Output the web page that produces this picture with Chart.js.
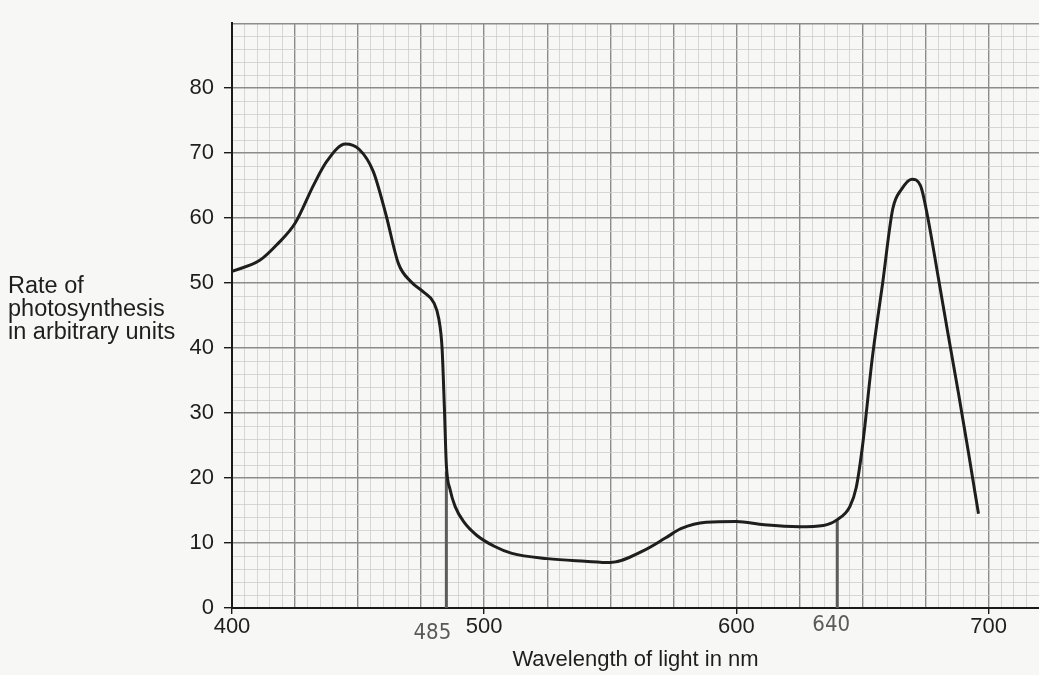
<!DOCTYPE html>
<html>
<head>
<meta charset="utf-8">
<script src="https://cdn.jsdelivr.net/npm/chart.js@4.4.1/dist/chart.umd.min.js"></script>
<style>
  html, body { margin: 0; padding: 0; background: #f7f7f5; }
  #wrap { width: 1039px; height: 675px; position: relative; }
</style>
</head>
<body>
<div id="wrap"><canvas id="c" width="1039" height="675"></canvas></div>
<script>
// curve
const wavelengths = [400, 411, 418, 425, 432.5, 437.7, 445, 450.4, 456, 461, 466, 471, 476, 480, 482, 483.3, 484.2, 485, 486.5, 488.5,
  492, 497, 504, 511, 525, 540, 550, 563, 572, 578, 588, 600, 611, 625, 634.5, 640, 645, 647.5, 650, 654, 658, 662, 665.6, 669.6, 673, 675.8,
  680, 684, 688, 692, 696];
const rates = [51.8, 53.5, 56, 59.2, 65.2, 68.8, 71.4, 70.6, 67.2, 60.6, 53, 50.2, 48.6, 47, 44.5, 40, 31, 22, 18.2, 15.6,
  13.2, 11.2, 9.5, 8.4, 7.6, 7.2, 7.0, 8.8, 10.8, 12.2, 13.2, 13.3, 12.8, 12.5, 12.7, 13.6, 15.6, 18.5, 24.9, 38.8, 50, 61.4, 64.5, 66, 65, 60.3,
  51, 42, 33.2, 24, 14.5];

// pencil marks down to the axis
const markWavelengths = [485, 640];
const markHeights = [21, 13.5];
const markLabels = ['485', '640'];

const xLabelValues = [400, 500, 600, 700];
const yLabelValues = [0, 10, 20, 30, 40, 50, 60, 70, 80];

const FONT = "'Liberation Sans', Arial, sans-serif";

const curve = wavelengths.map((w, i) => ({ x: w, y: rates[i] }));
const markSets = markWavelengths.map((w, i) => ({
  data: [{ x: w, y: 0 }, { x: w, y: markHeights[i] }],
  borderColor: '#5c5c5c',
  borderWidth: 3,
  pointRadius: 0,
  tension: 0,
  order: 1
}));

const textPlugin = {
  id: 'paperText',
  afterDraw(chart) {
    const ctx = chart.ctx;
    const xs = chart.scales.x;
    ctx.save();
    ctx.fillStyle = '#1e1e1e';
    ctx.font = '23.5px ' + FONT;
    ctx.textAlign = 'left';
    ctx.textBaseline = 'alphabetic';
    ['Rate of', 'photosynthesis', 'in arbitrary units'].forEach((t, i) => {
      ctx.fillText(t, 8, 293 + i * 23);
    });
    // handwritten values
    ctx.fillStyle = '#5a5a5a';
    ctx.font = "22px 'DejaVu Sans Condensed', 'DejaVu Sans', sans-serif";
    ctx.textAlign = 'center';
    ctx.textBaseline = 'middle';
    const offs = [-14, -6];
    const ys = [633, 625];
    markWavelengths.forEach((w, i) => {
      ctx.fillText(markLabels[i], xs.getPixelForValue(w) + offs[i], ys[i]);
    });
    ctx.restore();
  }
};

new Chart(document.getElementById('c'), {
  type: 'line',
  data: {
    datasets: [{
      data: curve,
      borderColor: '#1e1e1e',
      borderWidth: 3,
      pointRadius: 0,
      cubicInterpolationMode: 'monotone',
      fill: false,
      order: 0
    }, ...markSets]
  },
  options: {
    responsive: false,
    animation: false,
    layout: { padding: { top: 23, right: 0, left: 0, bottom: 0 } },
    plugins: { legend: { display: false }, tooltip: { enabled: false } },
    scales: {
      x: {
        type: 'linear',
        min: 400,
        max: 720,
        afterFit: s => { s.height = 67; },
        border: { color: '#1a1a1a', width: 2 },
        grid: {
          color: c => (c.tick.value % 25 === 0 ? '#8c8c8c' : '#cdcdcd'),
          lineWidth: c => (c.tick.value % 25 === 0 ? 1.4 : 0.8),
          tickColor: c => (xLabelValues.includes(c.tick.value) ? '#1a1a1a' : 'rgba(0,0,0,0)'),
          tickLength: 6
        },
        ticks: {
          stepSize: 5,
          autoSkip: false,
          maxRotation: 0,
          padding: 0,
          color: '#1e1e1e',
          font: { family: FONT, size: 22 },
          callback: v => (xLabelValues.includes(v) ? String(v) : '')
        },
        title: {
          display: true,
          text: 'Wavelength of light in nm',
          color: '#1e1e1e',
          font: { family: FONT, size: 22 },
          padding: { top: 0, bottom: 2 }
        }
      },
      y: {
        min: 0,
        max: 90,
        afterFit: s => { s.width = 232; },
        border: { color: '#1a1a1a', width: 2 },
        grid: {
          color: c => (c.tick.value % 10 === 0 ? '#8c8c8c' : '#cdcdcd'),
          lineWidth: c => (c.tick.value % 10 === 0 ? 1.4 : 0.8),
          tickColor: c => (yLabelValues.includes(c.tick.value) ? '#1a1a1a' : 'rgba(0,0,0,0)'),
          tickLength: 8
        },
        ticks: {
          stepSize: 2,
          autoSkip: false,
          padding: 10,
          color: '#1e1e1e',
          font: { family: FONT, size: 22 },
          callback: v => (yLabelValues.includes(v) ? String(v) : '')
        }
      }
    }
  },
  plugins: [textPlugin]
});
</script>
</body>
</html>
